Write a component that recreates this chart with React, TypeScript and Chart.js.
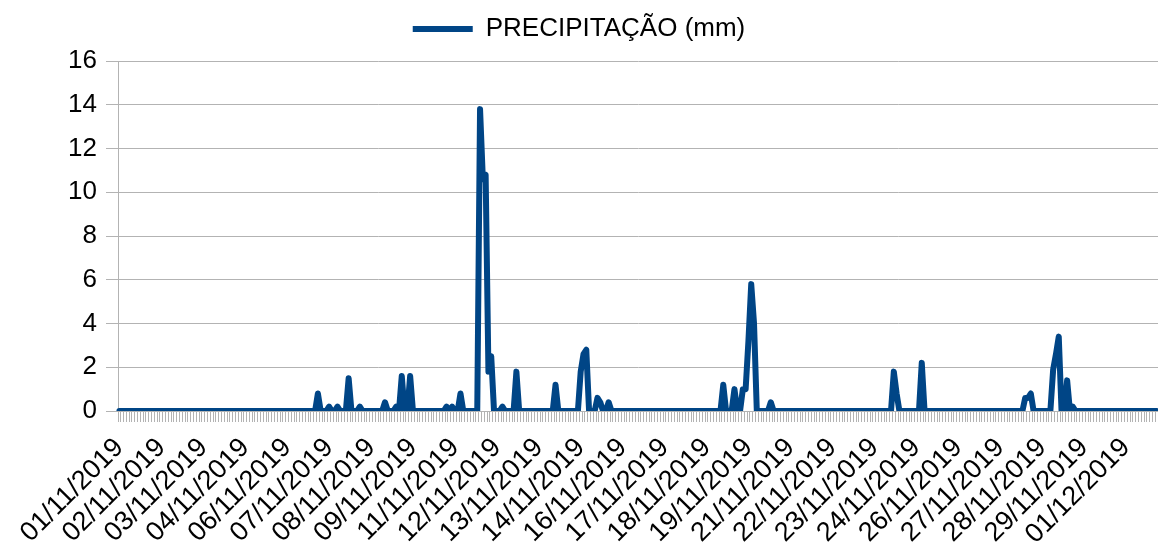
import React, { useEffect, useRef } from "react";
import { Chart, registerables } from "chart.js";

Chart.register(...registerables);

const seriesName = "PRECIPITAÇÃO (mm)";
const monthDays = 30; // November 2019, then 01/12/2019
const labelEvery = 15; // one date label every 15 readings (2-hourly readings)
const yMin = 0;
const yMax = 16;
const yStep = 2;

// 2-hourly precipitation (mm), one row per day, 12 readings per day
const rainByDay: number[][] = [
  [0, 0, 0, 0, 0, 0, 0, 0, 0, 0, 0, 0], // 01/11
  [0, 0, 0, 0, 0, 0, 0, 0, 0, 0, 0, 0], // 02/11
  [0, 0, 0, 0, 0, 0, 0, 0, 0, 0, 0, 0], // 03/11
  [0, 0, 0, 0, 0, 0, 0, 0, 0, 0, 0, 0], // 04/11
  [0, 0, 0, 0, 0, 0, 0, 0, 0, 0, 0, 0], // 05/11
  [0, 0, 0, 0, 0, 0, 0, 0, 0, 0, 0, 0.8], // 06/11
  [0, 0, 0, 0.2, 0, 0, 0.2, 0, 0, 0, 1.5, 0], // 07/11
  [0, 0, 0.2, 0, 0, 0, 0, 0, 0, 0, 0, 0.4], // 08/11
  [0, 0, 0, 0.2, 0, 1.6, 0, 0, 1.6, 0, 0, 0], // 09/11
  [0, 0, 0, 0, 0, 0, 0, 0, 0, 0.2, 0, 0.2], // 10/11
  [0, 0, 0.8, 0, 0, 0, 0, 0, 0, 13.8, 10.6, 10.8], // 11/11
  [1.8, 2.5, 0, 0, 0, 0.2, 0, 0, 0, 0, 1.8, 0], // 12/11
  [0, 0, 0, 0, 0, 0, 0, 0, 0, 0, 0, 0], // 13/11
  [1.2, 0, 0, 0, 0, 0, 0, 0, 0, 1.8, 2.6, 2.8], // 14/11
  [0, 0, 0, 0.6, 0.4, 0, 0, 0.4, 0, 0, 0, 0], // 15/11
  [0, 0, 0, 0, 0, 0, 0, 0, 0, 0, 0, 0], // 16/11
  [0, 0, 0, 0, 0, 0, 0, 0, 0, 0, 0, 0], // 17/11
  [0, 0, 0, 0, 0, 0, 0, 0, 0, 0, 0, 0], // 18/11
  [1.2, 0, 0, 0, 1.0, 0, 0, 1.0, 1.0, 3.2, 5.8, 4.0], // 19/11
  [0, 0, 0, 0, 0, 0.4, 0, 0, 0, 0, 0, 0], // 20/11
  [0, 0, 0, 0, 0, 0, 0, 0, 0, 0, 0, 0], // 21/11
  [0, 0, 0, 0, 0, 0, 0, 0, 0, 0, 0, 0], // 22/11
  [0, 0, 0, 0, 0, 0, 0, 0, 0, 0, 0, 0], // 23/11
  [0, 1.8, 0.8, 0, 0, 0, 0, 0, 0, 0, 0, 2.2], // 24/11
  [0, 0, 0, 0, 0, 0, 0, 0, 0, 0, 0, 0], // 25/11
  [0, 0, 0, 0, 0, 0, 0, 0, 0, 0, 0, 0], // 26/11
  [0, 0, 0, 0, 0, 0, 0, 0, 0, 0, 0, 0], // 27/11
  [0.6, 0.6, 0.8, 0, 0, 0, 0, 0, 0, 0, 1.9, 2.6], // 28/11
  [3.4, 0, 0, 1.4, 0, 0.2, 0, 0, 0, 0, 0, 0], // 29/11
  [0, 0, 0, 0, 0, 0, 0, 0, 0, 0, 0, 0], // 30/11
  [0, 0, 0, 0, 0, 0, 0, 0, 0, 0, 0, 0], // 01/12
];

const pad2 = (n: number) => String(n).padStart(2, "0");
const dayLabel = (d: number) =>
  d < monthDays ? `${pad2(d + 1)}/11/2019` : `${pad2(d - monthDays + 1)}/12/2019`;

const categories: string[] = [];
const values: number[] = [];
rainByDay.forEach((row, d) => {
  row.forEach((v) => {
    categories.push(dayLabel(d));
    values.push(v);
  });
});

const FONT = "'Liberation Sans', Arial, sans-serif";
const LINE_COLOR = "#004586";
const GRID_COLOR = "#b3b3b3";

const legendHeightPlugin = {
  id: "legendHeight",
  beforeInit(chart: any) {
    const legend = chart.legend;
    if (!legend) return;
    const fit = legend.fit;
    legend.fit = function () {
      fit.call(this);
      this.height = 61;
    };
  },
};

export default function App() {
  const canvasRef = useRef<HTMLCanvasElement | null>(null);

  useEffect(() => {
    document.body.style.margin = "0";
    const canvas = canvasRef.current;
    if (!canvas) return;
    const chart = new Chart(canvas, {
      type: "line",
      data: {
        labels: categories,
        datasets: [
          {
            label: seriesName,
            data: values,
            borderColor: LINE_COLOR,
            backgroundColor: LINE_COLOR,
            borderWidth: 6,
            pointRadius: 0,
            pointHoverRadius: 0,
            tension: 0,
            fill: false,
            borderJoinStyle: "round",
            borderCapStyle: "round",
          },
        ],
      },
      options: {
        responsive: false,
        maintainAspectRatio: false,
        animation: false,
        events: [],
        layout: { padding: 0 },
        plugins: {
          legend: {
            display: true,
            position: "top",
            labels: {
              usePointStyle: true,
              pointStyle: "line",
              pointStyleWidth: 60,
              color: "#000",
              padding: 16,
              font: { family: FONT, size: 26 },
            },
          },
          tooltip: { enabled: false },
        },
        scales: {
          x: {
            type: "category",
            offset: true,
            border: { display: false },
            grid: {
              offset: true,
              drawOnChartArea: false,
              drawTicks: true,
              tickLength: 11,
              color: GRID_COLOR,
            },
            ticks: {
              autoSkip: false,
              maxRotation: 45,
              minRotation: 45,
              padding: 10,
              color: "#000",
              font: { family: FONT, size: 27 },
              callback: (_v: any, i: number) => (i % labelEvery === 0 ? categories[i] : ""),
            },
            afterFit: (s: any) => {
              s.height = 141;
              s.paddingLeft = 0;
              s.paddingRight = 0;
            },
          },
          y: {
            min: yMin,
            max: yMax,
            border: { color: GRID_COLOR },
            grid: { color: GRID_COLOR, tickLength: 12 },
            ticks: {
              stepSize: yStep,
              padding: 9,
              color: "#000",
              font: { family: FONT, size: 26 },
            },
            afterFit: (s: any) => {
              s.width = 118;
            },
          },
        },
      },
      plugins: [legendHeightPlugin],
    } as any);
    return () => chart.destroy();
  }, []);

  return (
    <div style={{ width: 1158, height: 552 }}>
      <canvas ref={canvasRef} width={1158} height={552} />
    </div>
  );
}
